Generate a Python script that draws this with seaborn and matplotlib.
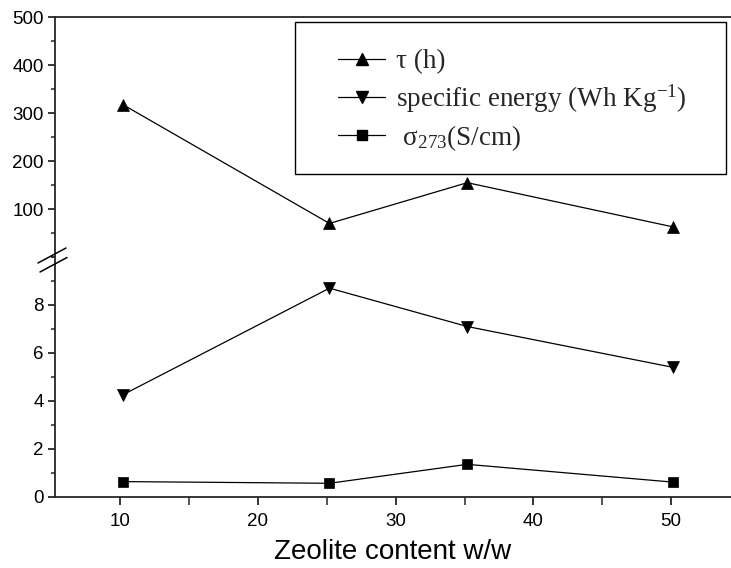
import matplotlib
matplotlib.use("Agg")
import matplotlib.pyplot as plt
from matplotlib.lines import Line2D
from matplotlib.patches import Rectangle
from matplotlib.ticker import MultipleLocator
import seaborn as sns
import pandas as pd

# ---- data ----
zeolite = [10.2, 25.2, 35.2, 50.1]
tau_h = [318, 70, 155, 63]
specific_energy = [4.25, 8.7, 7.1, 5.4]
sigma_273 = [0.63, 0.56, 1.35, 0.61]

labels = ["τ (h)", "specific energy (Wh Kg$^{\\mathregular{-1}}$)",
          " σ$_{\\mathregular{273}}$(S/cm)"]
x_label = "Zeolite content w/w"
upper_ticks = [100, 200, 300, 400, 500]
lower_ticks = [0, 2, 4, 6, 8]
x_ticks = [10, 20, 30, 40, 50]

sns.set_theme(style="ticks")
plt.rcParams["font.family"] = ["Liberation Sans", "DejaVu Sans"]
plt.rcParams["mathtext.fontset"] = "custom"
plt.rcParams["mathtext.rm"] = "Liberation Serif"
plt.rcParams["mathtext.it"] = "Liberation Serif:italic"

W, H = 731, 568
fig = plt.figure(figsize=(W / 100, H / 100), dpi=100)

left = 55 / W
y0 = 1 - 496.7 / H
ybreak = 1 - 257 / H
ytop = 1 - 17.3 / H
ax_u = fig.add_axes([left, ybreak, 1 - left, ytop - ybreak])
ax_l = fig.add_axes([left, y0, 1 - left, ybreak - y0], sharex=ax_u)

df = pd.DataFrame({"x": zeolite, "tau": tau_h, "en": specific_energy, "sig": sigma_273})

common = dict(color="black", linewidth=0.9, markeredgecolor="black",
              markeredgewidth=0.5)
sns.lineplot(data=df, x="x", y="tau", ax=ax_u, marker="^", markersize=9, **common)
sns.lineplot(data=df, x="x", y="en", ax=ax_l, marker="v", markersize=9, **common)
sns.lineplot(data=df, x="x", y="sig", ax=ax_l, marker="s", markersize=6.5, **common)

ax_u.set_xlim(5.28, 54.34)
ax_u.set_ylim(0, 500)
ax_l.set_ylim(0, 10)

for ax in (ax_u, ax_l):
    ax.set_xlabel("")
    ax.set_ylabel("")
    ax.spines["right"].set_visible(False)
    for s in ax.spines.values():
        s.set_linewidth(1.3)
    ax.tick_params(axis="both", which="major", direction="out", length=5,
                   width=1.1, labelsize=13.5, pad=3, colors="black")
    ax.tick_params(axis="both", which="minor", direction="out", length=3,
                   width=1.1)

ax_u.spines["bottom"].set_visible(False)
ax_u.spines["top"].set_visible(True)
ax_u.tick_params(axis="x", which="both", bottom=False, labelbottom=False)
ax_u.set_yticks(upper_ticks)
ax_u.yaxis.set_minor_locator(MultipleLocator(50))

ax_l.spines["top"].set_visible(False)
ax_l.set_yticks(lower_ticks)
ax_l.yaxis.set_minor_locator(MultipleLocator(1))
ax_l.set_xticks(x_ticks)
ax_l.xaxis.set_minor_locator(MultipleLocator(5))
ax_l.tick_params(axis="x", which="both", length=6, pad=6)
ax_l.set_xlabel(x_label, fontsize=20, labelpad=6, color="black")

# broken-axis marks
def px(xp, yp):
    return (xp / W, 1 - yp / H)
for (xa, ya), (xb, yb) in [((38, 263), (66, 248)), ((40, 272), (67, 257.5))]:
    p1, p2 = px(xa, ya), px(xb, yb)
    fig.add_artist(Line2D([p1[0], p2[0]], [p1[1], p2[1]], color="black",
                          linewidth=1.1, transform=fig.transFigure))

# legend
handles = [Line2D([], [], color="black", linewidth=0.9, marker=m, markersize=ms,
                  markeredgecolor="black")
           for m, ms in (("^", 9), ("v", 9), ("s", 6.5))]
fig.add_artist(Rectangle(px(295, 174), (726 - 295) / W, (174 - 22) / H,
                         transform=fig.transFigure, fill=False,
                         edgecolor="black", linewidth=1.0))
fig.legend(handles, labels, loc="upper left", bbox_to_anchor=px(338, 49),
           frameon=False, borderaxespad=0, borderpad=0,
           prop={"family": "Liberation Serif", "size": 19.5},
           handlelength=1.75, handletextpad=0.4, labelspacing=0.3)

fig.savefig("out.png", dpi=100)
